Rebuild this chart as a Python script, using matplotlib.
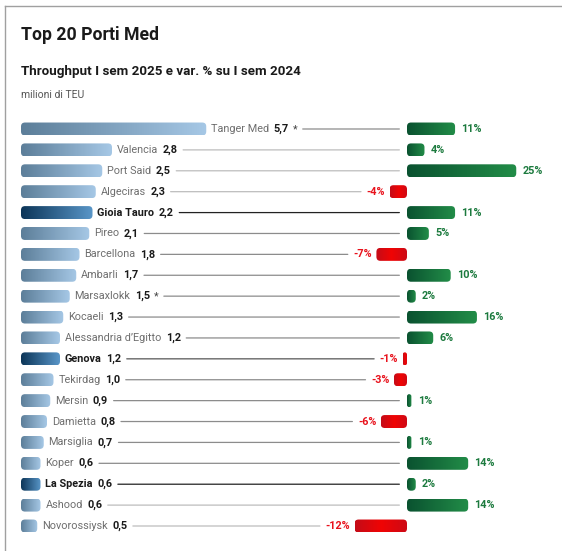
import matplotlib
matplotlib.use("Agg")
import numpy as np
import matplotlib.pyplot as plt
from matplotlib.patches import FancyBboxPatch
from matplotlib.colors import LinearSegmentedColormap

plt.rcParams['font.family'] = ['Roboto', 'DejaVu Sans']

# Top 20 Mediterranean ports, H1 2025 throughput (million TEU) and % change vs H1 2024
ports = ["Tanger Med", "Valencia", "Port Said", "Algeciras", "Gioia Tauro", "Pireo",
         "Barcellona", "Ambarli", "Marsaxlokk", "Kocaeli", "Alessandria d’Egitto",
         "Genova", "Tekirdag", "Mersin", "Damietta", "Marsiglia", "Koper",
         "La Spezia", "Ashood", "Novorossiysk"]
teu = [5.7, 2.8, 2.5, 2.3, 2.2, 2.1, 1.8, 1.7, 1.5, 1.3, 1.2,
       1.2, 1.0, 0.9, 0.8, 0.7, 0.6, 0.6, 0.6, 0.5]
var_pct = [11, 4, 25, -4, 11, 5, -7, 10, 2, 16, 6,
           -1, -3, 1, -6, 1, 14, 2, 14, -12]
estimated = ["Tanger Med", "Marsaxlokk"]
italian = ["Gioia Tauro", "Genova", "La Spezia"]
light_lines = ["Valencia", "Port Said", "Algeciras", "Ashood", "Novorossiysk"]

steel = LinearSegmentedColormap.from_list('steel', ['#5c7e99', '#a6c8e6'])
navy = LinearSegmentedColormap.from_list('navy', ['#0c3558', '#5996c8'])
greens = LinearSegmentedColormap.from_list('greens', ['#0a5230', '#228d48'])
reds = LinearSegmentedColormap.from_list('reds', ['#c40c18', '#f00404', '#cc0a16'])
GREEN_TXT = '#1c7a3e'
RED_TXT = '#e8121c'
FS = 7.8
BAR_H = 0.62

W, H = 562, 551
fig = plt.figure(figsize=(W / 100, H / 100), dpi=100)
fig.patch.set_facecolor('white')

row_px = 20.9
top_px = 129 - row_px / 2
bot_px = 526 + row_px / 2
ax_l = fig.add_axes([21 / W, 1 - bot_px / H, 379 / W, (bot_px - top_px) / H])
ax_r = fig.add_axes([300 / W, 1 - bot_px / H, 262 / W, (bot_px - top_px) / H])
ax_l.set_xlim(0, 379 / 32.5)
ax_r.set_xlim((300 - 407) / 4.37, (562 - 407) / 4.37)
for ax in (ax_l, ax_r):
    ax.set_ylim(len(ports) - 0.5, -0.5)
    ax.set_autoscale_on(False)
    ax.axis('off')


def gradient_bar(ax, x0, x1, y, h, cmap, radius_px=4):
    # rounded bar filled with a horizontal gradient
    (ax0, ay0), (ax1, ay1) = ax.transData.transform([(0, 0), (1, 1)])
    sx, sy = abs(ax1 - ax0), abs(ay1 - ay0)
    left, right = min(x0, x1), max(x0, x1)
    w = right - left
    r = min(radius_px, w * sx / 2, h * sy / 2)
    patch = FancyBboxPatch((left, y - h / 2), w, h,
                           boxstyle=f"round,pad=0,rounding_size={r / sx}",
                           mutation_aspect=sx / sy,
                           facecolor='none', edgecolor='none')
    ax.add_patch(patch)
    grad = np.linspace(0, 1, 256).reshape(1, -1)
    im = ax.imshow(grad, extent=(left, right, y + h / 2, y - h / 2),
                   aspect='auto', cmap=cmap, interpolation='bilinear')
    im.set_clip_path(patch)


fmt = lambda v: f"{v:.1f}".replace('.', ',')

# right side: % change
pct_labels = []
for i, p in enumerate(var_pct):
    pos = p >= 0
    gradient_bar(ax_r, 0, p, i, BAR_H, greens if pos else reds)
    lab = ax_r.annotate(f"{p}%", xy=(p, i), xytext=(4.5 if pos else -3.2, 0),
                        textcoords='offset points', ha='left' if pos else 'right',
                        va='center', fontsize=FS, fontweight='bold',
                        color=GREEN_TXT if pos else RED_TXT)
    pct_labels.append(lab)

# left side: throughput with names, values and connector lines
for i, (name, v) in enumerate(zip(ports, teu)):
    hl = name in italian
    gradient_bar(ax_l, 0, v, i, BAR_H, navy if hl else steel)
    t_name = ax_l.annotate(name, xy=(v, i), xytext=(3.5, 0), textcoords='offset points',
                           ha='left', va='center', fontsize=FS,
                           color='#1a1a1a' if hl else '#6e6e6e',
                           fontweight='bold' if hl else 'normal')
    last = ax_l.annotate(fmt(v), xy=(1, 0.5), xycoords=t_name, xytext=(3.2, 0),
                         textcoords='offset points', ha='left', va='center',
                         fontsize=FS, fontweight='bold', color='#1a1a1a')
    if name in estimated:
        last = ax_l.annotate('*', xy=(1, 0.5), xycoords=last, xytext=(2.5, 0),
                             textcoords='offset points', ha='left', va='center',
                             fontsize=FS, color='#444444')
    if hl:
        lc = '#555555' if name == "Genova" else '#222222'
    elif name in light_lines:
        lc = '#bdbdbd'
    else:
        lc = '#8c8c8c'
    if var_pct[i] >= 0:
        end, end_coords, shrink_b = (0, i), ax_r.transData, 5.5
    else:
        end, end_coords, shrink_b = (0, i), (pct_labels[i], 'data'), 4
    ax_l.annotate('', xy=end, xycoords=end_coords, xytext=(1, i), textcoords=(last, 'data'),
                  arrowprops=dict(arrowstyle='-', color=lc, lw=0.9,
                                  shrinkA=4, shrinkB=shrink_b),
                  annotation_clip=False)

# titles
fig.text(21 / W, 1 - 40 / H, "Top 20 Porti Med", fontsize=12.7, fontweight='bold',
         color='#1a1a1a', va='baseline')
fig.text(21 / W, 1 - 75 / H, "Throughput I sem 2025 e var. % su I sem 2024", fontsize=9.6,
         fontweight='bold', color='#1a1a1a', va='baseline')
fig.text(21 / W, 1 - 98 / H, "milioni di TEU", fontsize=7.5, color='#555555', va='baseline')

# frame
fig.add_artist(plt.Line2D([5 / W, 5 / W], [0, 1 - 5.5 / H], color='#a0a0a0', lw=1,
                          transform=fig.transFigure))
fig.add_artist(plt.Line2D([5 / W, 1], [1 - 5.5 / H, 1 - 5.5 / H], color='#a0a0a0', lw=1,
                          transform=fig.transFigure))

fig.savefig('out.png', dpi=100, facecolor='white')
